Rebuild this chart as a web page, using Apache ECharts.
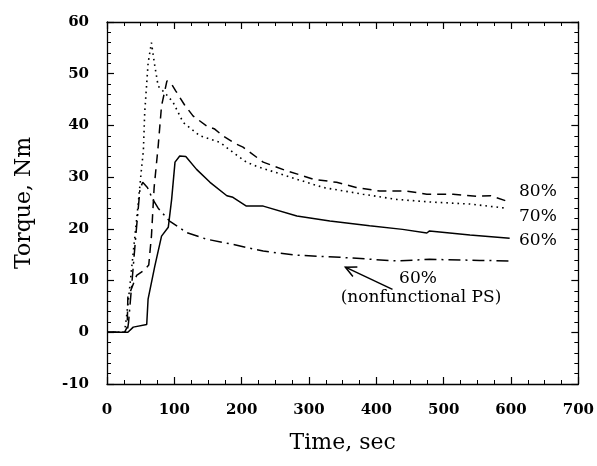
<!DOCTYPE html>
<html>
<head>
<meta charset="utf-8">
<script src="https://cdn.jsdelivr.net/npm/echarts@6/dist/echarts.min.js"></script>
<style>
  html, body { margin: 0; padding: 0; background: #fff; }
  #container { width: 597px; height: 466px; }
</style>
</head>
<body>
<div id="container"></div>
<script>
// torque vs time: [time sec, torque Nm]
const s80 = [
  [0, 0], [26, 0], [30, 1], [31, 7], [35, 8], [44, 11], [55, 12], [62, 13],
  [66, 18.6], [70, 28], [76, 36], [81, 43.8], [89, 48.6], [95, 48.2],
  [102, 46.7], [115, 44], [128, 41.8], [148, 39.9], [160, 39.3], [172, 38],
  [190, 36.5], [202, 35.8], [232, 32.9], [267, 31.2], [285, 30.5],
  [306, 29.6], [341, 29], [370, 28], [405, 27.3], [445, 27.3], [475, 26.7],
  [514, 26.7], [549, 26.3], [570, 26.4], [595, 25.3]
];
const s70 = [
  [0, 0], [26, 0], [29, 3], [34, 9], [39, 15.5], [46, 24.4], [51.5, 32],
  [54, 35], [56, 42.5], [61, 52], [66, 56], [71, 51.5], [76, 47.6],
  [88, 46], [98, 44.5], [113, 40.6], [138, 38], [168, 36.7], [187, 34.8],
  [207, 32.9], [222, 32.1], [272, 30], [321, 28], [380, 26.7], [430, 25.7],
  [479, 25.2], [539, 24.8], [593, 24]
];
const s60 = [
  [0, 0], [31, 0], [39, 1], [59, 1.5], [61, 6.4], [71, 12.8], [81, 18.6],
  [91, 20.3], [96, 25.7], [101, 32.9], [108, 34.1], [117, 34], [133, 31.5],
  [153, 29], [178, 26.4], [187, 26.1], [207, 24.4], [232, 24.4], [282, 22.5],
  [331, 21.5], [390, 20.6], [439, 19.9], [475, 19.2], [479, 19.6],
  [539, 18.8], [598, 18.2]
];
const s60np = [
  [0, 0], [30, 0], [32, 1.9], [37, 9.6], [43, 19], [49, 27.7], [53, 29],
  [60, 28], [68, 25.7], [76, 24], [93, 21.5], [118, 19.3], [148, 18],
  [187, 17], [207, 16.4], [232, 15.7], [282, 14.9], [346, 14.5],
  [430, 13.8], [479, 14.1], [553, 13.9], [598, 13.8]
];
const xTicks = { min: 0, max: 700, interval: 100 };
const yTicks = { min: -10, max: 60, interval: 10 };
const arrowFrom = [424, 8.3];
const arrowTo = [354, 12.6];

const chart = echarts.init(document.getElementById("container"));
const serif = "DejaVu Serif";
const baseAxis = {
  axisLine: { show: true, onZero: false, lineStyle: { color: "#000", width: 1.3 } },
  axisTick: { show: true, inside: true, length: 7, lineStyle: { color: "#000", width: 1.2 } },
  minorTick: { show: true, length: 4, lineStyle: { color: "#000", width: 1 } },
  splitLine: { show: false }
};

let option = {
  animation: false,
  backgroundColor: "#fff",
  grid: { left: 107, right: 18, top: 22, bottom: 82 },
  xAxis: [
    Object.assign({}, baseAxis, {
      type: "value", min: xTicks.min, max: xTicks.max, interval: xTicks.interval,
      minorTick: Object.assign({}, baseAxis.minorTick, { splitNumber: 4 }),
      axisLabel: { color: "#000", fontFamily: serif, fontWeight: "bold", fontSize: 15, margin: 19 },
      name: "Time, sec", nameLocation: "middle", nameGap: 48,
      nameTextStyle: { color: "#000", fontFamily: serif, fontSize: 22 }
    }),
    Object.assign({}, baseAxis, {
      type: "value", position: "top", min: xTicks.min, max: xTicks.max, interval: xTicks.interval,
      minorTick: Object.assign({}, baseAxis.minorTick, { splitNumber: 4 }),
      axisLabel: { show: false }
    })
  ],
  yAxis: [
    Object.assign({}, baseAxis, {
      type: "value", min: yTicks.min, max: yTicks.max, interval: yTicks.interval,
      minorTick: Object.assign({}, baseAxis.minorTick, { splitNumber: 5 }),
      axisLabel: { color: "#000", fontFamily: serif, fontWeight: "bold", fontSize: 15, margin: 18 },
      name: "Torque, Nm", nameLocation: "middle", nameGap: 72, nameRotate: 90,
      nameTextStyle: { color: "#000", fontFamily: serif, fontSize: 22 }
    }),
    Object.assign({}, baseAxis, {
      type: "value", position: "right", min: yTicks.min, max: yTicks.max, interval: yTicks.interval,
      minorTick: Object.assign({}, baseAxis.minorTick, { splitNumber: 5 }),
      axisLabel: { show: false }
    })
  ],
  series: [
    {
      name: "80%", type: "line", data: s80, symbol: "none",
      lineStyle: { color: "#000", width: 1.5, type: [9, 6] }
    },
    {
      name: "70%", type: "line", data: s70, symbol: "none",
      lineStyle: { color: "#000", width: 1.6, type: [1.6, 4] }
    },
    {
      name: "60%", type: "line", data: s60, symbol: "none",
      lineStyle: { color: "#000", width: 1.5, type: "solid" }
    },
    {
      name: "60% (nonfunctional PS)", type: "line", data: s60np, symbol: "none",
      lineStyle: { color: "#000", width: 1.5, type: [12, 5, 2, 5] }
    }
  ]
};
chart.setOption(option);

// labels and the arrow pointing to the nonfunctional curve
const p0 = chart.convertToPixel({ gridIndex: 0 }, arrowFrom);
const p1 = chart.convertToPixel({ gridIndex: 0 }, arrowTo);
const ang = Math.atan2(p1[1] - p0[1], p1[0] - p0[0]);
const hl = 12, hw = 0.45;
const font = "17px '" + serif + "'";
const txt = (t, x, y) => ({
  type: "text", x: x, y: y,
  style: { text: t, fill: "#000", font: font, textAlign: "left", textVerticalAlign: "middle" }
});
chart.setOption({
  graphic: [
    txt("80%", 519, 192),
    txt("70%", 519, 217),
    txt("60%", 519, 241),
    { type: "text", x: 418, y: 279, style: { text: "60%", fill: "#000", font: font, textAlign: "center", textVerticalAlign: "middle" } },
    { type: "text", x: 421, y: 298, style: { text: "(nonfunctional PS)", fill: "#000", font: font, textAlign: "center", textVerticalAlign: "middle" } },
    { type: "line", shape: { x1: p0[0], y1: p0[1], x2: p1[0], y2: p1[1] }, style: { stroke: "#000", lineWidth: 1.5 } },
    { type: "polyline", shape: { points: [
        [p1[0] - hl * Math.cos(ang - hw), p1[1] - hl * Math.sin(ang - hw)],
        [p1[0], p1[1]],
        [p1[0] - hl * Math.cos(ang + hw), p1[1] - hl * Math.sin(ang + hw)]
      ] }, style: { stroke: "#000", fill: null, lineWidth: 1.5 } }
  ]
});
window.addEventListener("resize", chart.resize);
</script>
</body>
</html>
